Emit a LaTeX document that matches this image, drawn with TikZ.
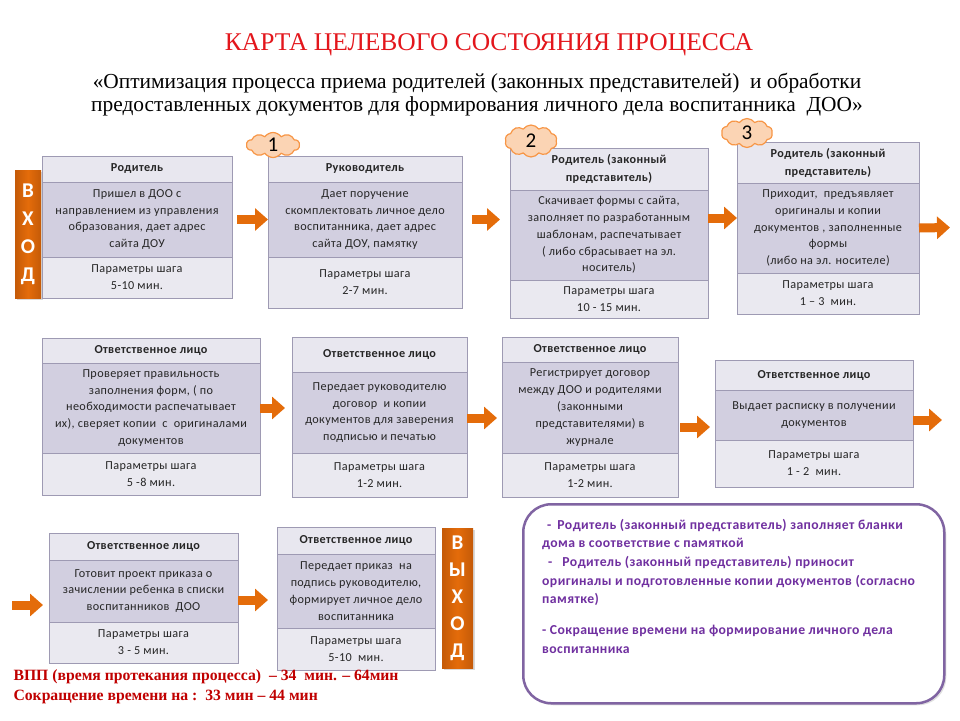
\documentclass[tikz,border=0pt]{standalone}
\usepackage{fontspec}
\setmainfont{Liberation Serif}
\newfontfamily\boxfont[LetterSpace=3]{Carlito}
\usetikzlibrary{arrows.meta,positioning,shapes.symbols,shadows}
\definecolor{frame}{HTML}{9E9AB3}
\definecolor{headfill}{HTML}{E8E7EF}
\definecolor{bodyfill}{HTML}{D2CFE0}
\definecolor{parfill}{HTML}{EAE9F0}
\definecolor{flow}{HTML}{E46C0A}
\definecolor{flowdark}{HTML}{C45A08}
\definecolor{puff}{HTML}{FBD4B4}
\definecolor{puffline}{HTML}{F79646}
\definecolor{titlered}{HTML}{E3161C}
\definecolor{darkred}{HTML}{C00000}
\definecolor{note}{HTML}{7030A0}
\definecolor{noteframe}{HTML}{8064A2}

\begin{document}
\begin{tikzpicture}[x=1pt,y=-1pt,node distance=0pt]
\tikzstyle{cell}=[draw=frame,outer sep=0pt,inner sep=2pt,align=center,text=black!85]
\tikzstyle{head}=[cell,fill=headfill,font=\boxfont\bfseries\fontsize{12.2}{18}\selectfont]
\tikzstyle{body}=[cell,fill=bodyfill,font=\boxfont\fontsize{12.2}{16.8}\selectfont]
\tikzstyle{params}=[cell,fill=parfill,font=\boxfont\fontsize{12.2}{17}\selectfont]
\tikzstyle{blockarrow}=[line width=9pt,draw=flow,-{Triangle[width=22pt,length=13pt]}]
\tikzstyle{gate}=[left color=flowdark,right color=flowdark,middle color=flow,text=white,align=center,inner sep=0pt,
  drop shadow={opacity=0.3,shadow xshift=2pt,shadow yshift=-2pt}]
\tikzstyle{numtag}=[cloud,cloud puffs=10,cloud puff arc=110,aspect=2,fill=puff,draw=puffline,line width=1.2pt,
  inner sep=0pt,font=\boxfont\fontsize{21}{21}\selectfont]
\useasboundingbox (0,0) rectangle (960,720);

% heading
\node[text=titlered,font=\fontsize{25.5}{25.5}\selectfont] (title) at (489,45) {КАРТА ЦЕЛЕВОГО СОСТОЯНИЯ ПРОЦЕССА};
\node[align=center,font=\fontsize{21.4}{23}\selectfont] (aim) at (477,95)
  {«Оптимизация процесса приема родителей (законных представителей)\ \ и обработки\\
   предоставленных документов для формирования личного дела воспитанника\ \ ДОО»};

% first row
\node[gate,font=\boxfont\bfseries\fontsize{21}{28}\selectfont,minimum width=26pt,minimum height=128pt] (entrygate) at (28,234) {В\\Х\\О\\Д};

\node[head,anchor=north west,minimum width=190pt,minimum height=26pt] (b1head) at (42,156) {Родитель};
\node[body,below=of b1head,minimum width=190pt,minimum height=75pt] (b1body) {Пришел в ДОО с\\направлением из управления\\образования, дает адрес\\сайта ДОУ};
\node[params,below=of b1body,minimum width=190pt,minimum height=41pt] (b1par) {Параметры шага\\5-10 мин.};

\node[head,anchor=north west,minimum width=194pt,minimum height=26pt] (b2head) at (268,156) {Руководитель};
\node[body,below=of b2head,minimum width=194pt,minimum height=75pt] (b2body) {Дает поручение\\скомплектовать личное дело\\воспитанника, дает адрес\\сайта ДОУ, памятку};
\node[params,below=of b2body,minimum width=194pt,minimum height=51pt] (b2par) {Параметры шага\\2-7 мин.};

\node[head,anchor=north west,minimum width=198pt,minimum height=42pt] (b3head) at (510,148) {Родитель (законный\\представитель)};
\node[body,below=of b3head,minimum width=198pt,minimum height=90pt] (b3body) {Скачивает формы с сайта,\\заполняет по разработанным\\шаблонам, распечатывает\\( либо сбрасывает на эл.\\носитель)};
\node[params,below=of b3body,minimum width=198pt,minimum height=38pt] (b3par) {Параметры шага\\10 - 15 мин.};

\node[head,anchor=north west,minimum width=182pt,minimum height=41pt] (b4head) at (737,142) {Родитель (законный\\представитель)};
\node[body,below=of b4head,minimum width=182pt,minimum height=90pt] (b4body) {Приходит,\ \ предъявляет\\оригиналы и копии\\документов , заполненные\\формы\\(либо на эл. носителе)};
\node[params,below=of b4body,minimum width=182pt,minimum height=41pt] (b4par) {Параметры шага\\1 – 3\ \ мин.};

% second row
\node[head,anchor=north west,minimum width=218pt,minimum height=25pt] (b5head) at (42,338) {Ответственное лицо};
\node[body,below=of b5head,minimum width=218pt,minimum height=90pt] (b5body) {Проверяет правильность\\заполнения форм, ( по\\необходимости распечатывает\\их), сверяет копии\ \ с\ \ оригиналами\\документов};
\node[params,below=of b5body,minimum width=218pt,minimum height=42pt] (b5par) {Параметры шага\\5 -8 мин.};

\node[head,anchor=north west,minimum width=175pt,minimum height=35pt] (b6head) at (292,337) {Ответственное лицо};
\node[body,below=of b6head,minimum width=175pt,minimum height=81pt] (b6body) {Передает руководителю\\договор\ \ и копии\\документов для заверения\\подписью и печатью};
\node[params,below=of b6body,minimum width=175pt,minimum height=44pt] (b6par) {Параметры шага\\1-2 мин.};

\node[head,anchor=north west,minimum width=176pt,minimum height=25pt] (b7head) at (502,337) {Ответственное лицо};
\node[body,below=of b7head,minimum width=176pt,minimum height=91pt] (b7body) {Регистрирует договор\\между ДОО и родителями\\(законными\\представителями) в\\журнале};
\node[params,below=of b7body,minimum width=176pt,minimum height=44pt] (b7par) {Параметры шага\\1-2 мин.};

\node[head,anchor=north west,minimum width=198pt,minimum height=30pt] (b8head) at (715,360) {Ответственное лицо};
\node[body,below=of b8head,minimum width=198pt,minimum height=50pt] (b8body) {Выдает расписку в получении\\документов};
\node[params,below=of b8body,minimum width=198pt,minimum height=47pt] (b8par) {Параметры шага\\1 - 2\ \ мин.};

% third row
\node[head,anchor=north west,minimum width=189pt,minimum height=27pt] (b9head) at (49,533) {Ответственное лицо};
\node[body,below=of b9head,minimum width=189pt,minimum height=62pt] (b9body) {Готовит проект приказа о\\зачислении ребенка в списки\\воспитанников\ \ ДОО};
\node[params,below=of b9body,minimum width=189pt,minimum height=41pt] (b9par) {Параметры шага\\3 - 5 мин.};

\node[head,anchor=north west,minimum width=158pt,minimum height=27pt] (b10head) at (277,527) {Ответственное лицо};
\node[body,below=of b10head,minimum width=158pt,minimum height=74pt] (b10body) {Передает приказ\ \ на\\подпись руководителю,\\формирует личное дело\\воспитанника};
\node[params,below=of b10body,minimum width=158pt,minimum height=42pt] (b10par) {Параметры шага\\5-10\ \ мин.};

\node[gate,font=\boxfont\bfseries\fontsize{21}{27}\selectfont,minimum width=31pt,minimum height=140pt] (exitgate) at (457.5,598) {В\\Ы\\Х\\О\\Д};

% step numbers
\node[numtag,minimum width=53pt,minimum height=25pt] (tag1) at (273,145) {1};
\node[numtag,minimum width=52pt,minimum height=32pt] (tag2) at (531,141) {2};
\node[numtag,minimum width=51pt,minimum height=29pt] (tag3) at (747,133) {3};

% flow arrows
\coordinate (exit1) at (950,227.5);
\coordinate (exit2) at (942,420);
\coordinate (entry3) at (12,605);
\draw[blockarrow,shorten <=5pt] (b1body.east) -- (b2body.west);
\draw[blockarrow,shorten <=10pt,shorten >=10pt] (b2body.east) -- (b2body.east -| b3body.west);
\draw[blockarrow] ([yshift=17pt]b3body.east) -- ([yshift=17pt]b3body.east -| b4body.west);
\draw[blockarrow] (b4body.east) -- (exit1);
\draw[blockarrow,shorten >=7pt] (b5body.east) -- (b5body.east -| b6body.west);
\draw[blockarrow,shorten >=5pt] ([yshift=-5.5pt]b6body.east) -- ([yshift=-5.5pt]b6body.east -| b7body.west);
\draw[blockarrow,shorten <=2pt,shorten >=5pt] ([yshift=-19.5pt]b7body.east) -- ([yshift=-19.5pt]b7body.east -| b8body.west);
\draw[blockarrow] (b8body.east |- exit2) -- (exit2);
\draw[blockarrow,shorten >=6pt] (entry3) -- (entry3 -| b9body.west);
\draw[blockarrow,shorten >=9pt] ([yshift=-9pt]b9body.east) -- ([yshift=-9pt]b9body.east -| b10body.west);

% totals
\node[anchor=west,text=darkred,font=\bfseries\fontsize{15.7}{15.7}\selectfont] (vpp) at (10,677) {ВПП (время протекания процесса)\ \ – 34\ \ мин. – 64мин};
\node[anchor=west,text=darkred,font=\bfseries\fontsize{15.7}{15.7}\selectfont] (saving) at (10,697) {Сокращение времени на :\ \ 33 мин – 44 мин};

% result
\node[draw=noteframe,line width=2.5pt,rounded corners=28pt,fill=white,minimum width=421pt,minimum height=199pt,anchor=north west,
  drop shadow={opacity=0.25,shadow xshift=2pt,shadow yshift=-2pt}] (summary) at (522,503) {};
\node[below right=16pt and 20pt of summary.north west,anchor=north west,inner sep=0pt,align=left,text=note,
  font=\boxfont\bfseries\fontsize{13.7}{18.6}\selectfont] (summarytext)
  {\hspace*{5pt}-\hspace*{6pt}Родитель (законный представитель) заполняет бланки\\
   дома в соответствие с памяткой\\
   \hspace*{6pt}-\hspace*{10pt}Родитель (законный представитель) приносит\\
   оригиналы и подготовленные копии документов (согласно\\
   памятке)\\[12.5pt]
   - Сокращение времени на формирование личного дела\\
   воспитанника};
\end{tikzpicture}
\end{document}
